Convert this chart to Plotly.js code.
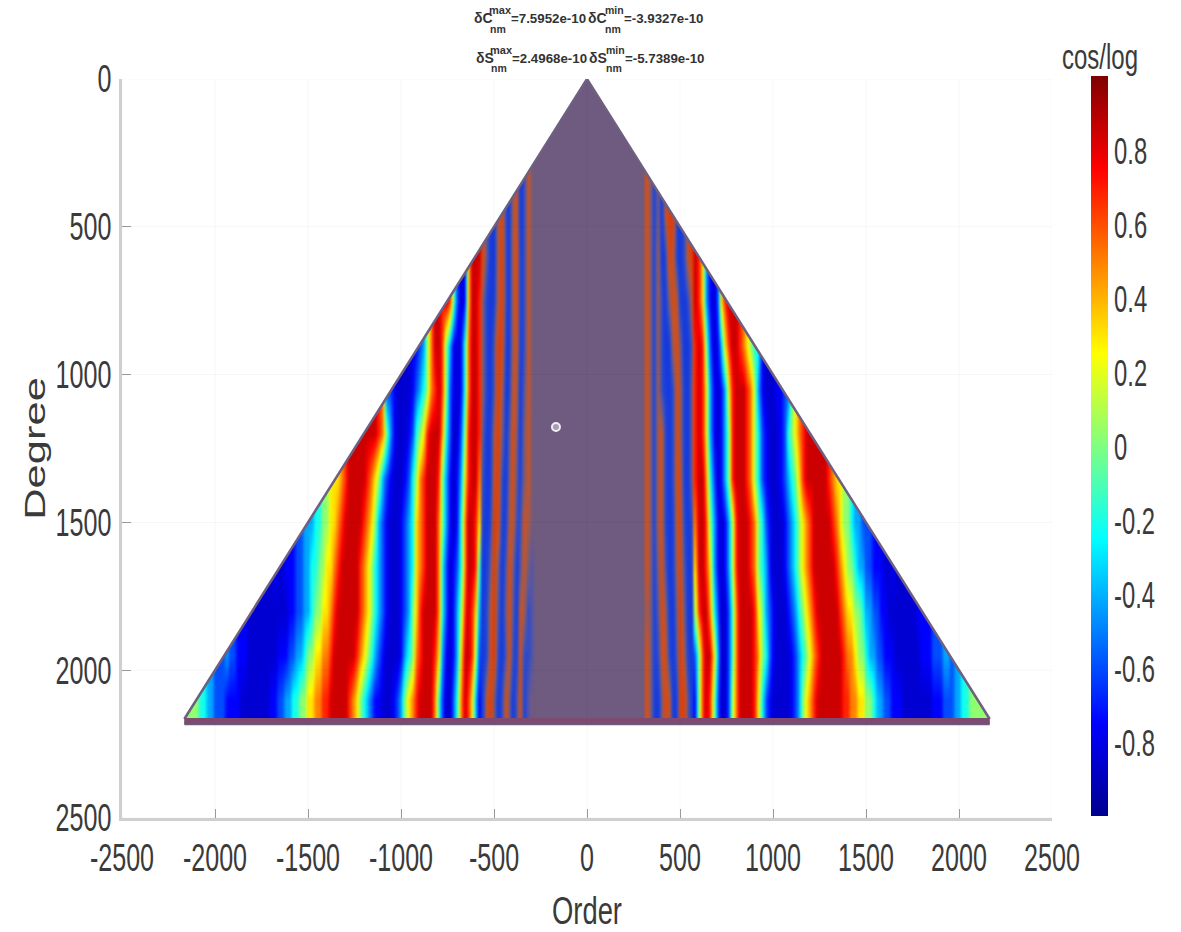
<!DOCTYPE html>
<html><head><meta charset="utf-8">
<script src="https://cdn.plot.ly/plotly-3.0.1.min.js"></script>
<style>html,body{margin:0;padding:0;background:#fff}
.heatmaplayer image{filter:blur(.8px)}</style>
</head><body><div id="chart" style="width:1181px;height:932px"></div>
<script>
// Degree of each row.
const degreeRows = [300,450,600,750,900,1050,1200,1350,1500,1650,1800,1950,2100];
// Colour band read per cell, every 20 orders outward from |order|=300. Digit = level index, '.' = no band.
const zLevels = [-.85,-.75,-.6,-.42,-.2,.03,.3,.5,.68,.85];
const rowsRight = [
 ".75251699",
 ".75251699",
 ".752612872 137998",
 ".752631586 2137986310 26899",
 ".752631168 5114898520 1368998765 44",
 ".752632138 6215898631 0136899987 5310001122",
 ".752673138 6215898631 0135899987 5421000124 5678999",
 ".752673138 7215899742 0135899987 5421000123 4568999999 876",
 ".752673127 8313799853 1013589998 7542100012 3456789999 9876554332 2",
 ".752584126 8412699863 1013589998 7543100012 3456789999 9987655433 22111001",
 ".652486215 9511589974 2002479999 8653210001 2345678999 9998766554 3322110000 000011",
 ".752378314 9621258996 3002479999 8754210000 1234567899 9999877655 4332211100 0000011122 233",
 ".752158712 8941158985 2002579999 8642100000 1235678999 9999887766 5543322111 0000000011 1222334455 5"
];
const rowsLeft = [
 "573176138",
 "573176138",
 "5732861396 114899",
 "5732861396 2125899610 2589",
 "5732761289 4125899741 0135899753 21",
 "5741672169 4125899741 0125898754 3210000122",
 "5751584159 6214899852 0024799986 5421000135 789999",
 "5752485139 7213799863 1013589998 7542100012 3567899999 876",
 "5673376228 9312689974 1013579998 7643210001 2356789999 9876655443 3",
 "4574158415 9521489974 2102479998 7643210001 2345678999 9987665544 3322111001",
 "4367148514 9731368985 3102479999 8653210001 2345678999 9998766554 3322110000 00000",
 "4338238413 9831258996 3101368999 8754310000 1234567899 9999877665 5433221110 0000000111 223",
 "5428415831 5972136897 4200247999 9876532100 0112345678 9999988776 6554433221 1000000001 1112223344 5"
];
const innerOrder = 300, binStep = 20, binCount = 95, fineBins = 15;
const triangleDegree = 2165, baseDegree = 2172, maskBottom = 2186;
const dotOrder = [-167], dotDegree = [1177];
const xTicks = [-2500,-2000,-1500,-1000,-500,0,500,1000,1500,2000,2500];
const yTicks = [0,500,1000,1500,2000,2500];
const cbTicks = [-0.8,-0.6,-0.4,-0.2,0,0.2,0.4,0.6,0.8];
const jet = [[0,'#00008f'],[.125,'#0000ff'],[.375,'#00ffff'],[.625,'#ffff00'],[.875,'#ff0000'],[1,'#800000']];
// fine stripes near the centre blur to these muted colours in the picture
const fineScale = [[0,'#0a2ce0'],[.25,'#1f45d8'],[.42,'#5a58a0'],[.5,'#6f5a80'],[.62,'#a05a50'],[.75,'#d0501c'],[1,'#e03404']];
const headerText = [["δC",473,18,14],["max",488,10,11],["nm",489,29,10.5],["=7.5952e-10",510,18,13.3],["δC",587,18,14],["min",604,10,10.5],["nm",604,29,10.5],["=-3.9327e-10",623,18,13.3],
 ["δS",475,58,14],["max",489,50,11],["nm",490,68,10.5],["=2.4968e-10",511,58,13.3],["δS",588,58,14],["min",605,50,10.5],["nm",605,68,10.5],["=-5.7389e-10",624,58,13.3]];

const W=1181,H=932,L=122,R=1052,T=79,B=818,RM=1;
const pw=W-L-RM;
const px2x=p=>(p-L)/pw, px2y=p=>(B-p)/(B-T);
function decode(rows,k){
  const clean=rows.map(s=>s.replace(/ /g,'')); const out=[];
  for(let i=0;i<binCount;i++){
    let j=k; while(j<clean.length-1 && i>=clean[j].length) j++;
    const c=clean[j]; const ch=c[Math.min(i,c.length-1)];
    out.push(ch==='.'?null:zLevels[+ch]);
  }
  return out;
}
const centreCols=[]; for(let m=-innerOrder+binStep;m<innerOrder;m+=binStep) centreCols.push(m);
const outer=[]; for(let i=0;i<binCount;i++) outer.push(innerOrder+i*binStep);
const orders=outer.map(v=>-v).reverse().concat(centreCols,outer);
const pick=(a,f)=>a.map((v,i)=>f(i)?v:null);
const mkGrid=f=>degreeRows.map((d,k)=>pick(decode(rowsLeft,k),f).reverse().concat(centreCols.map(()=>null),pick(decode(rowsRight,k),f)));
const zFine=mkGrid(i=>i<=fineBins), zOuter=mkGrid(i=>i>=fineBins-1);

const t=triangleDegree, mb=maskBottom;
const data=[
 {type:'heatmap',x:[-2400,2400],y:[0,2400],z:[[0,0],[0,0]],zmin:0,zmax:1,colorscale:[[0,'#6f5a80'],[1,'#6f5a80']],showscale:false,hoverinfo:'skip'},
 {type:'heatmap',x:orders,y:degreeRows,z:zFine,zmin:-1,zmax:1,zsmooth:'best',colorscale:fineScale,showscale:false,hoverinfo:'skip'},
 {type:'heatmap',x:orders,y:degreeRows,z:zOuter,zmin:-1,zmax:1,zsmooth:'best',colorscale:jet,hoverinfo:'skip',
  colorbar:{x:px2x(1091),xanchor:'left',y:px2y(816),yanchor:'bottom',lenmode:'pixels',len:772,thickness:17,xpad:0,ypad:0,outlinewidth:0,
   tickmode:'array',tickvals:cbTicks,ticktext:cbTicks.map(String),ticks:'',tickfont:{family:'Liberation Sans',size:28,color:'#3a3a3a'},
   title:{text:'cos/log',side:'top',font:{family:'Liberation Sans',size:24,color:'#3a3a3a'}}}},
 {type:'scatter',mode:'none',fill:'toself',fillcolor:'#fff',hoverinfo:'skip',showlegend:false,
  x:[-2500,0,-t,-t,t,t,0,2500,2500,-2500,-2500],y:[0,0,t,mb,mb,t,0,0,2500,2500,0]},
 {type:'scatter',mode:'lines',hoverinfo:'skip',showlegend:false,line:{color:'rgba(0,0,0,.035)',width:1},
  x:xTicks.flatMap(v=>[v,v,null]).concat(yTicks.flatMap(()=>[-2500,2500,null])),
  y:xTicks.flatMap(()=>[0,2500,null]).concat(yTicks.flatMap(v=>[v,v,null]))},
 {type:'scatter',mode:'lines',hoverinfo:'skip',showlegend:false,line:{color:'#6f5f80',width:2.5},x:[-t,0,t],y:[t,0,t]},
 {type:'scatter',mode:'lines',hoverinfo:'skip',showlegend:false,line:{color:'#7d4a72',width:6},x:[-t,t],y:[baseDegree,baseDegree]},
 {type:'scatter',mode:'markers',hoverinfo:'skip',showlegend:false,x:dotOrder,y:dotDegree,
  marker:{size:8,color:'#a99fb5',line:{color:'#f1eef3',width:2}}}
];
const tf={family:'Liberation Sans',size:38,color:'#3a3a3a'};
const ax={showgrid:false,zeroline:false,showline:true,linecolor:'#cfcfcf',linewidth:3,ticks:'inside',ticklen:9,tickcolor:'#9a9a9a',tickfont:tf,tickmode:'array',tickangle:0};
const layout={width:W,height:H,margin:{l:L,r:RM,t:T,b:H-B,pad:0},paper_bgcolor:'#fff',plot_bgcolor:'#fff',showlegend:false,
 xaxis:Object.assign({},ax,{domain:[0,(R-L)/pw],range:[-2500,2500],tickvals:xTicks,ticktext:xTicks.map(String),ticklabelstandoff:4,title:{text:'Order',standoff:20,font:tf}}),
 yaxis:Object.assign({},ax,{range:[2500,0],tickvals:yTicks,ticktext:yTicks.map(String),ticklabelstandoff:0,title:{text:'Degree',standoff:10,font:{family:'Liberation Sans',size:30,color:'#3a3a3a'}}}),
 annotations:headerText.map(h=>({text:h[0],xref:'paper',yref:'paper',x:px2x(h[1]),y:px2y(h[2]),xanchor:'left',yanchor:'middle',showarrow:false,borderpad:0,
   font:{family:'Liberation Sans',size:h[3],color:'#333',weight:700}}))
};
function squeeze(sel,kx,ky,dy){
  ky=ky||1; dy=dy||0;
  document.querySelectorAll(sel).forEach(e=>{
    const x=parseFloat(e.getAttribute('x'))||0, y=parseFloat(e.getAttribute('y'))||0, tr=e.getAttribute('transform')||'';
    e.setAttribute('transform',tr+` translate(${x},${y+dy}) scale(${kx},${ky}) translate(${-x},${-y})`);
  });
}
Plotly.newPlot('chart',data,layout,{staticPlot:true,displayModeBar:false}).then(()=>{
  squeeze('.xtick text',.66); squeeze('.ytick text',.66);
  squeeze('.g-xtitle text',.72); squeeze('.g-ytitle text',1.45);
  const yt=document.querySelector('.g-ytitle text');
  if(yt) yt.setAttribute('transform','translate(18,0) '+yt.getAttribute('transform'));
  squeeze('.colorbar .cbaxis text',.85,1.32,4);
  const ct=document.querySelector('.colorbar .cbtitle text');
  if(ct){ct.setAttribute('x',1100);ct.setAttribute('text-anchor','middle');squeeze('.colorbar .cbtitle text',1.0,1.5,4);}
});
</script></body></html>
